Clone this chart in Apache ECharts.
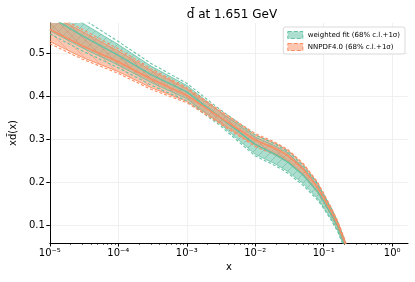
<!DOCTYPE html>
<html><head><meta charset="utf-8">
<script src="https://cdn.jsdelivr.net/npm/echarts@6/dist/echarts.min.js"></script>
<style>html,body{margin:0;padding:0;background:#fff}#c{width:415px;height:282px}</style>
</head><body><div id="c"></div>
<script>
// x grid (momentum fraction)
const xs = [1e-5, 3e-5, 1e-4, 3e-4, 1e-3, 3e-3, 1e-2, 2e-2, 3e-2, 5e-2, 0.08, 0.1, 0.13, 0.16, 0.2, 0.25];
// weighted fit
const wfUpper   = [0.62, 0.57, 0.52, 0.47, 0.425, 0.365, 0.305, 0.284, 0.268, 0.235, 0.195, 0.168, 0.135, 0.105, 0.065, 0.02];
const wfCentral = [0.585, 0.54, 0.495, 0.45, 0.41, 0.352, 0.288, 0.264, 0.247, 0.217, 0.18, 0.155, 0.124, 0.097, 0.058, 0.014];
const wfLower   = [0.552, 0.512, 0.472, 0.432, 0.394, 0.337, 0.265, 0.242, 0.225, 0.197, 0.164, 0.142, 0.114, 0.088, 0.051, 0.009];
const wfSigUp   = [0.63, 0.58, 0.527, 0.476, 0.43, 0.37, 0.31, 0.288, 0.272, 0.239, 0.198, 0.171, 0.138, 0.108, 0.067, 0.022];
const wfSigLo   = [0.545, 0.505, 0.466, 0.426, 0.389, 0.333, 0.261, 0.238, 0.221, 0.193, 0.16, 0.139, 0.111, 0.085, 0.048, 0.006];
// NNPDF4.0
const nnUpper   = [0.59, 0.55, 0.505, 0.46, 0.417, 0.365, 0.31, 0.29, 0.274, 0.242, 0.2, 0.172, 0.138, 0.108, 0.068, 0.022];
const nnCentral = [0.555, 0.517, 0.48, 0.44, 0.402, 0.352, 0.298, 0.278, 0.262, 0.231, 0.19, 0.163, 0.131, 0.102, 0.063, 0.018];
const nnLower   = [0.527, 0.49, 0.457, 0.42, 0.388, 0.34, 0.286, 0.266, 0.25, 0.22, 0.181, 0.155, 0.124, 0.096, 0.058, 0.014];
const nnSigUp   = [0.595, 0.555, 0.51, 0.464, 0.42, 0.368, 0.313, 0.292, 0.276, 0.244, 0.202, 0.174, 0.14, 0.11, 0.07, 0.024];
const nnSigLo   = [0.522, 0.486, 0.453, 0.416, 0.385, 0.337, 0.283, 0.263, 0.247, 0.217, 0.178, 0.152, 0.121, 0.094, 0.056, 0.012];
// ticks
const xMajor = [1e-5, 1e-4, 1e-3, 1e-2, 1e-1, 1];
const xMajorLabels = ['10\u207B\u2075', '10\u207B\u2074', '10\u207B\u00B3', '10\u207B\u00B2', '10\u207B\u00B9', '10\u2070'];
const yTicks = [0.1, 0.2, 0.3, 0.4, 0.5];
const labelWF = 'weighted fit (68% c.l.+1\u03C3)';
const labelNN = 'NNPDF4.0 (68% c.l.+1\u03C3)';

const xMinor = [];
for (let e = -5; e < 1; e++) for (let k = 2; k <= 9; k++) { const v = k * Math.pow(10, e); if (v < 1.7) xMinor.push(v); }

const G = '#66c2a5', O = '#fc8d62';
const GF = 'rgba(102,194,165,0.55)', OF = 'rgba(252,141,98,0.5)';
const pair = (ys) => xs.map((x, i) => [x, ys[i]]);
const FONT = 'DejaVu Sans';

function hatch(fill, lineColor, forward) {
  const s = 9, c = document.createElement('canvas');
  c.width = s; c.height = s;
  const g = c.getContext('2d');
  g.fillStyle = fill; g.fillRect(0, 0, s, s);
  g.strokeStyle = lineColor; g.lineWidth = 0.7;
  g.beginPath();
  if (forward) { g.moveTo(0, s); g.lineTo(s, 0); g.moveTo(-1, 1); g.lineTo(1, -1); g.moveTo(s - 1, s + 1); g.lineTo(s + 1, s - 1); }
  else { g.moveTo(0, 0); g.lineTo(s, s); g.moveTo(s - 1, -1); g.lineTo(s + 1, 1); g.moveTo(-1, s - 1); g.lineTo(1, s + 1); }
  g.stroke();
  return { image: c, repeat: 'repeat' };
}

function band(name, lo, up, fill) {
  const rows = xs.map((x, i) => [x, lo[i], up[i]]);
  return {
    type: 'custom', name: name, data: rows, z: 2, silent: true,
    itemStyle: { color: fill.color || fill },
    renderItem: function (params, api) {
      if (params.dataIndex !== 0) return null;
      const top = rows.map(r => api.coord([r[0], r[2]]));
      const bot = rows.map(r => api.coord([r[0], r[1]])).reverse();
      const cs = params.coordSys;
      return {
        type: 'polygon',
        shape: { points: top.concat(bot) },
        style: { fill: fill.pattern, stroke: null },
        clipPath: { type: 'rect', shape: { x: cs.x, y: cs.y, width: cs.width, height: cs.height } }
      };
    }
  };
}
function line(ys, color, w, type, z) {
  return { type: 'line', data: pair(ys), symbol: 'none', lineStyle: { color: color, width: w, type: type }, z: z, silent: true };
}

const chart = echarts.init(document.getElementById('c'), null, { renderer: 'canvas' });
chart.setOption({
  animation: false,
  backgroundColor: '#fff',
  title: { text: 'd\u0304 at 1.651 GeV', left: 227, textAlign: 'center', top: 4, textStyle: { fontFamily: FONT, fontSize: 12, fontWeight: 'normal', color: '#000' } },
  grid: { left: 47, right: 7, top: 23, bottom: 39 },
  legend: {
    right: 10, top: 27, orient: 'vertical', itemGap: 4, itemWidth: 15, itemHeight: 7,
    padding: [4, 5, 3, 4], borderColor: '#d0d0d0', borderWidth: 0.8, borderRadius: 2, backgroundColor: 'rgba(255,255,255,0.85)',
    textStyle: { fontFamily: FONT, fontSize: 7, color: '#000' },
    data: [
      { name: labelWF, icon: 'rect', itemStyle: { color: GF, borderColor: G, borderWidth: 1, borderType: 'dashed' } },
      { name: labelNN, icon: 'rect', itemStyle: { color: OF, borderColor: O, borderWidth: 1, borderType: 'dashed' } }
    ]
  },
  xAxis: [{
    type: 'log', logBase: 10, min: 1e-5, max: 1.7,
    name: 'x', nameLocation: 'middle', nameGap: 19, nameTextStyle: { fontFamily: FONT, fontSize: 10, color: '#000' },
    axisLine: { lineStyle: { color: '#000', width: 1 } },
    axisTick: { customValues: xMajor, length: 3.5, inside: false, lineStyle: { color: '#000' } },
    axisLabel: { customValues: xMajor, formatter: v => xMajorLabels[Math.round(Math.log10(v)) + 5], fontFamily: FONT, fontSize: 10, color: '#000', margin: 5 },
    splitLine: { show: true, lineStyle: { color: '#ececec', width: 0.8 } }, minorTick: { show: false }
  }, {
    type: 'log', logBase: 10, min: 1e-5, max: 1.7, position: 'bottom', offset: 0, gridIndex: 0,
    axisLine: { show: false }, axisLabel: { show: false }, splitLine: { show: false },
    axisTick: { customValues: xMinor, length: 2, lineStyle: { color: '#000', width: 0.6 } }
  }],
  yAxis: {
    type: 'value', min: 0.059, max: 0.57,
    name: 'xd\u0304(x)', nameLocation: 'middle', nameGap: 30, nameRotate: 90, nameTextStyle: { fontFamily: FONT, fontSize: 10, color: '#000' },
    axisLine: { show: true, lineStyle: { color: '#000', width: 1 } },
    axisTick: { show: true, customValues: yTicks, length: 3.5, lineStyle: { color: '#000' } },
    axisLabel: { customValues: yTicks, formatter: v => v.toFixed(1), fontFamily: FONT, fontSize: 10, color: '#000', margin: 5 },
    splitLine: { show: true, lineStyle: { color: '#ececec', width: 0.8 } }
  },
  series: [
    band(labelWF, wfLower, wfUpper, { color: GF, pattern: hatch(GF, 'rgba(60,150,120,0.45)', true) }),
    band(labelNN, nnLower, nnUpper, { color: OF, pattern: hatch(OF, 'rgba(200,100,60,0.35)', false) }),
    line(wfUpper, G, 0.8, 'solid', 3), line(wfLower, G, 0.8, 'solid', 3),
    line(wfSigUp, G, 1.1, [3, 2], 4), line(wfSigLo, G, 1.1, [3, 2], 4),
    line(nnUpper, O, 0.9, 'solid', 3), line(nnLower, O, 0.9, 'solid', 3),
    line(nnSigUp, O, 1.1, [3, 2], 4), line(nnSigLo, O, 1.1, [3, 2], 4),
    line(wfCentral, G, 1.5, 'solid', 5), line(nnCentral, O, 1.5, 'solid', 5)
  ]
});
</script></body></html>
